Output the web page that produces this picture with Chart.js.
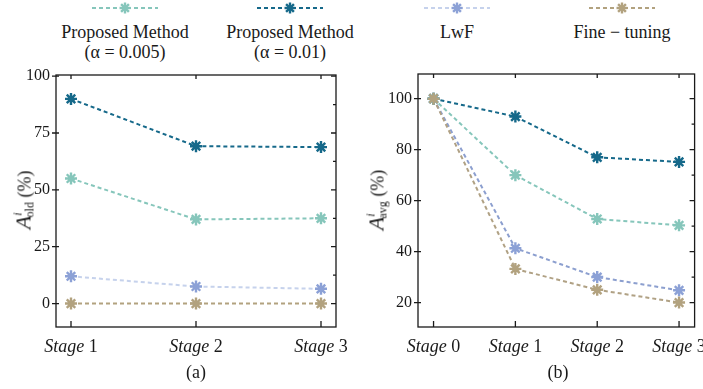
<!DOCTYPE html>
<html>
<head>
<meta charset="utf-8">
<script src="https://cdn.jsdelivr.net/npm/chart.js@4.4.0/dist/chart.umd.min.js"></script>
<style>
  body { margin: 0; background: #fff; }
  #wrap { position: relative; width: 703px; height: 389px; overflow: hidden; font-family: "Liberation Serif", "Times New Roman", Tinos, "DejaVu Serif", serif; color: #1a1a1a; }
  canvas { position: absolute; top: 0; }
  #chartA { left: 0; }
  #chartB { left: 350px; }
  .legend-item { position: absolute; top: 0; width: 180px; margin-left: -90px; text-align: center; font-size: 18px; line-height: 20px; }
  .legend-item svg { display: block; margin: 1px auto 7px auto; }
  .ytitle { position: absolute; font-size: 18px; white-space: nowrap; transform: translate(-50%, -50%) rotate(-90deg); }
  .ytitle .cal { font-style: italic; font-size: 22px; }
  .ytitle sub { font-size: 12px; vertical-align: -3px; margin-left: -5px; }
  .ytitle sup { font-size: 12px; font-style: italic; vertical-align: 9px; }
  .caption { position: absolute; font-size: 18px; transform: translate(-50%, -50%); }
</style>
</head>
<body>
<div id="wrap">
  <div id="legend"></div>
  <canvas id="chartA" width="350" height="389"></canvas>
  <canvas id="chartB" width="353" height="389"></canvas>
  <div class="ytitle" style="left:24px; top:200px;"><span class="cal">A</span><sup>i</sup><sub>old</sub>&nbsp;(%)</div>
  <div class="ytitle" style="left:377px; top:200px;"><span class="cal">A</span><sup>i</sup><sub>avg</sub>&nbsp;(%)</div>
  <div class="caption" style="left:196px; top:372px;">(a)</div>
  <div class="caption" style="left:558px; top:372px;">(b)</div>
</div>
<script>
const serifStack = '"Liberation Serif", "Times New Roman", Tinos, "DejaVu Serif", serif';

// legend / series names
const seriesNames = ['Proposed Method', 'Proposed Method', 'LwF', 'Fine \u2212 tuning'];
const seriesNotes = ['(\u03b1 = 0.005)', '(\u03b1 = 0.01)', '', ''];
const markerColors = ['#86c6bb', '#16698a', '#8ca1d6', '#b2a27f'];
const lineColorsA = ['#86c6bb', '#16698a', '#c6d2ec', '#b2a27f'];
const lineColorsB = ['#86c6bb', '#16698a', '#8c9fcf', '#b0a184'];

// panel (a): accuracy on old tasks
const stagesA = [1, 2, 3];
const oldProp005 = [55, 37, 37.5];
const oldProp001 = [90, 69.2, 68.8];
const oldLwF = [12, 7.5, 6.5];
const oldFT = [0, 0, 0];
const yTicksA = [0, 25, 50, 75, 100];

// panel (b): average accuracy
const stagesB = [0, 1, 2, 3];
const avgProp005 = [100, 70, 52.8, 50.3];
const avgProp001 = [100, 93, 77, 75.2];
const avgLwF = [100, 41.3, 30, 24.8];
const avgFT = [100, 33.2, 25, 20];
const yTicksB = [20, 40, 60, 80, 100];

function buildLegend() {
    const legend = document.getElementById('legend');
    const centers = [125, 290, 457, 622];
    seriesNames.forEach((name, i) => {
        const item = document.createElement('div');
        item.className = 'legend-item';
        item.style.left = centers[i] + 'px';
        const c = markerColors[i];
        const lc = lineColorsA[i];
        let star = '';
        for (let k = 0; k < 4; k++) {
            const a = k * Math.PI / 4;
            const dx = 5.5 * Math.cos(a), dy = 5.5 * Math.sin(a);
            star += `<line x1="${35 - dx}" y1="${7 - dy}" x2="${35 + dx}" y2="${7 + dy}" stroke="${c}" stroke-width="2.4"/>`;
        }
        item.innerHTML =
            `<svg width="70" height="14"><line x1="2" y1="7" x2="68" y2="7" stroke="${lc}" stroke-width="2" stroke-dasharray="4 3"/>${star}</svg>` +
            `<div>${name}</div>` + (seriesNotes[i] ? `<div>${seriesNotes[i]}</div>` : '');
        legend.appendChild(item);
    });
}

// frame with inward ticks and stage labels (italic "Stage" + upright number)
const framePlugin = {
    id: 'frame',
    afterDraw(chart) {
        const ctx = chart.ctx;
        const a = chart.chartArea;
        const xs = chart.options.plugins.frame.stages;
        const ys = chart.options.plugins.frame.yTicks;
        const x = chart.scales.x, y = chart.scales.y;
        ctx.save();
        ctx.strokeStyle = '#1a1a1a';
        ctx.lineWidth = 1.3;
        ctx.strokeRect(a.left, a.top, a.right - a.left, a.bottom - a.top);
        ctx.beginPath();
        for (let i = 0; i < ys.length; i++) {
            const py = y.getPixelForValue(ys[i]);
            ctx.moveTo(a.left - 4, py); ctx.lineTo(a.left + 3, py);
            ctx.moveTo(a.right, py); ctx.lineTo(a.right - 5, py);
            if (i < ys.length - 1) {
                const pm = y.getPixelForValue((ys[i] + ys[i + 1]) / 2);
                ctx.moveTo(a.right, pm); ctx.lineTo(a.right - 3, pm);
            }
        }
        xs.forEach(v => {
            const px = x.getPixelForValue(v);
            ctx.moveTo(px, a.bottom); ctx.lineTo(px, a.bottom - 6);
            ctx.moveTo(px, a.top); ctx.lineTo(px, a.top + 4);
        });
        ctx.stroke();
        ctx.fillStyle = '#1a1a1a';
        ctx.textBaseline = 'alphabetic';
        xs.forEach(v => {
            const px = x.getPixelForValue(v);
            ctx.font = 'italic 18px ' + serifStack;
            const w1 = ctx.measureText('Stage').width;
            ctx.font = '18px ' + serifStack;
            const num = ' ' + v;
            const w2 = ctx.measureText(num).width;
            const left = px - (w1 + w2) / 2;
            ctx.textAlign = 'left';
            ctx.font = 'italic 18px ' + serifStack;
            ctx.fillText('Stage', left, a.bottom + 25);
            ctx.font = '18px ' + serifStack;
            ctx.fillText(num, left + w1, a.bottom + 25);
        });
        ctx.restore();
    }
};

function makeChart(id, stages, seriesList, lineColors, xMin, xMax, yMin, yMax, yTicks, axisWidth, padding) {
    const order = [1, 2, 3, 0];
    const datasets = seriesList.map((vals, i) => ({
        label: seriesNames[i] + ' ' + seriesNotes[i],
        data: vals.map((v, k) => ({ x: stages[k], y: v })),
        borderColor: lineColors[i],
        backgroundColor: markerColors[i],
        pointBorderColor: markerColors[i],
        borderWidth: 2,
        borderDash: [4, 3],
        pointStyle: 'star',
        pointRadius: 6,
        pointBorderWidth: 2.4,
        order: order[i]
    }));
    return new Chart(document.getElementById(id), {
        type: 'line',
        data: { datasets: datasets },
        options: {
            responsive: false,
            animation: false,
            layout: { padding: padding },
            plugins: {
                legend: { display: false },
                tooltip: { enabled: false },
                frame: { stages: stages, yTicks: yTicks }
            },
            scales: {
                x: { type: 'linear', min: xMin, max: xMax, display: false },
                y: {
                    type: 'linear', min: yMin, max: yMax,
                    grid: { display: false, drawTicks: false },
                    border: { display: false },
                    ticks: { padding: 6, color: '#1a1a1a', font: { family: serifStack, size: 16 } },
                    afterBuildTicks: s => { s.ticks = yTicks.map(v => ({ value: v })); },
                    afterFit: s => { s.width = axisWidth; }
                }
            }
        },
        plugins: [framePlugin]
    });
}

document.addEventListener('DOMContentLoaded', function() {
    buildLegend();
    makeChart('chartA', stagesA, [oldProp005, oldProp001, oldLwF, oldFT], lineColorsA,
        0.88, 3.12, -10.3, 100.5, yTicksA, 56, { left: 0, right: 14, top: 75, bottom: 62 });
    makeChart('chartB', stagesB, [avgProp005, avgProp001, avgLwF, avgFT], lineColorsB,
        -0.19, 3.19, 10.4, 109.7, yTicksB, 68, { left: 0, right: 4, top: 74, bottom: 62 });
});
</script>
</body>
</html>
